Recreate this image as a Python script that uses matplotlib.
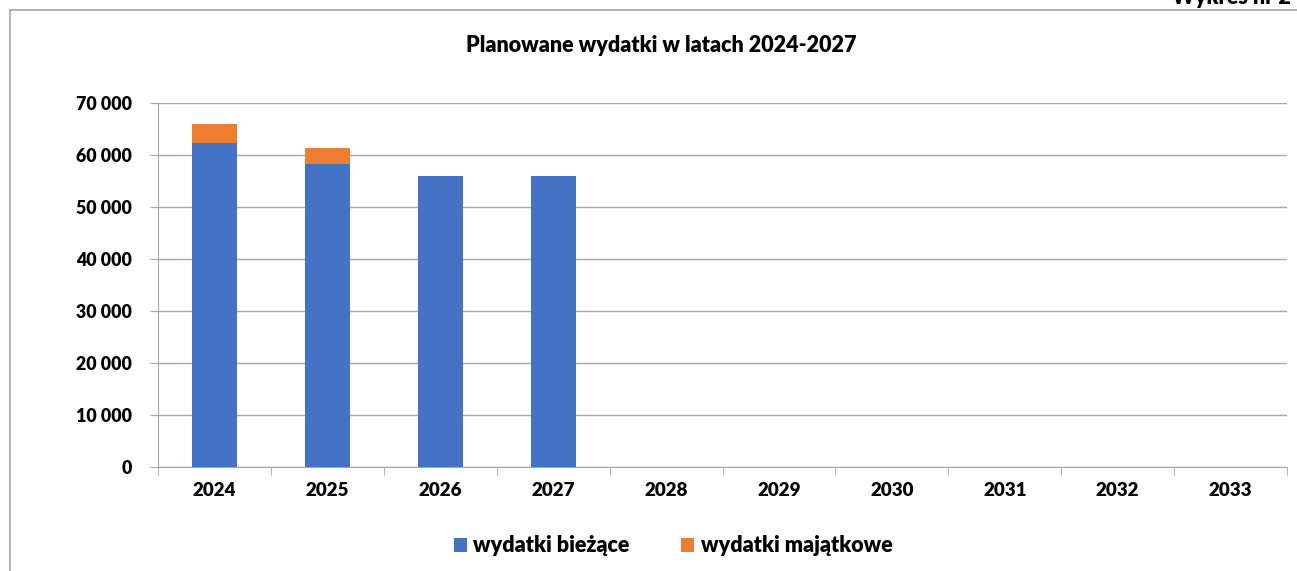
import matplotlib.pyplot as plt
import numpy as np
from matplotlib.ticker import FuncFormatter

plt.rcParams['font.family'] = ['Lato', 'DejaVu Sans']
plt.rcParams['font.weight'] = 'bold'

# Data
years = ['2024', '2025', '2026', '2027', '2028', '2029', '2030', '2031', '2032', '2033']
biezace = [62400, 58200, 56050, 56050, 0, 0, 0, 0, 0, 0]
majatkowe = [3650, 3100, 0, 0, 0, 0, 0, 0, 0, 0]

blue = '#4472C4'
orange = '#ED7D31'
grid_c = '#A6A6A6'

fig = plt.figure(figsize=(12.97, 5.71), dpi=100)
ax = fig.add_axes([158 / 1297, 1 - 467 / 571, (1287 - 158) / 1297, (467 - 103) / 571])

x = np.arange(len(years))
ax.bar(x, biezace, width=0.4, color=blue, label='wydatki bieżące', zorder=3)
ax.bar(x, majatkowe, width=0.4, bottom=biezace, color=orange, label='wydatki majątkowe', zorder=3)

ax.set_xlim(-0.5, len(years) - 0.5)
ax.set_ylim(0, 70000)
ax.set_yticks(range(0, 70001, 10000))
ax.yaxis.set_major_formatter(FuncFormatter(lambda v, p: f'{int(v):,}'.replace(',', ' ')))
ax.set_xticks(x)
ax.set_xticklabels(years)
ax.set_xticks(np.arange(-0.5, len(years)), minor=True)

ax.grid(axis='y', color=grid_c, linewidth=1, zorder=0)
for s in ['top', 'right']:
    ax.spines[s].set_visible(False)
ax.spines['left'].set_color(grid_c)
ax.spines['bottom'].set_color(grid_c)
ax.tick_params(axis='y', length=6, color=grid_c, labelsize=12.8, pad=13)
ax.tick_params(axis='x', which='major', length=0, labelsize=13.5, pad=11)
ax.tick_params(axis='x', which='minor', length=6, color=grid_c)
for lab in ax.get_xticklabels() + ax.get_yticklabels():
    lab.set_fontweight('heavy')

fig.text(661 / 1297, 1 - 45 / 571, 'Planowane wydatki w latach 2024-2027',
         ha='center', va='center', fontsize=15.5, fontweight='heavy')
fig.text(1291 / 1297, 1 + 2 / 571, 'Wykres nr 2', ha='right', va='center',
         fontsize=15.5, fontweight='heavy')

# outer frame lines
fig.add_artist(plt.Line2D([10 / 1297, 1], [1 - 10 / 571, 1 - 10 / 571], color=grid_c, lw=1.2))
fig.add_artist(plt.Line2D([10 / 1297, 10 / 1297], [0, 1 - 10 / 571], color=grid_c, lw=1.2))

fig.legend(loc='center', bbox_to_anchor=(673 / 1297, 1 - 546 / 571), ncol=2, frameon=False,
           prop={'size': 15.5, 'weight': 'heavy'}, handlelength=0.6, handleheight=0.6,
           handletextpad=0.3, columnspacing=2.4)

fig.savefig('out.png', dpi=100)
